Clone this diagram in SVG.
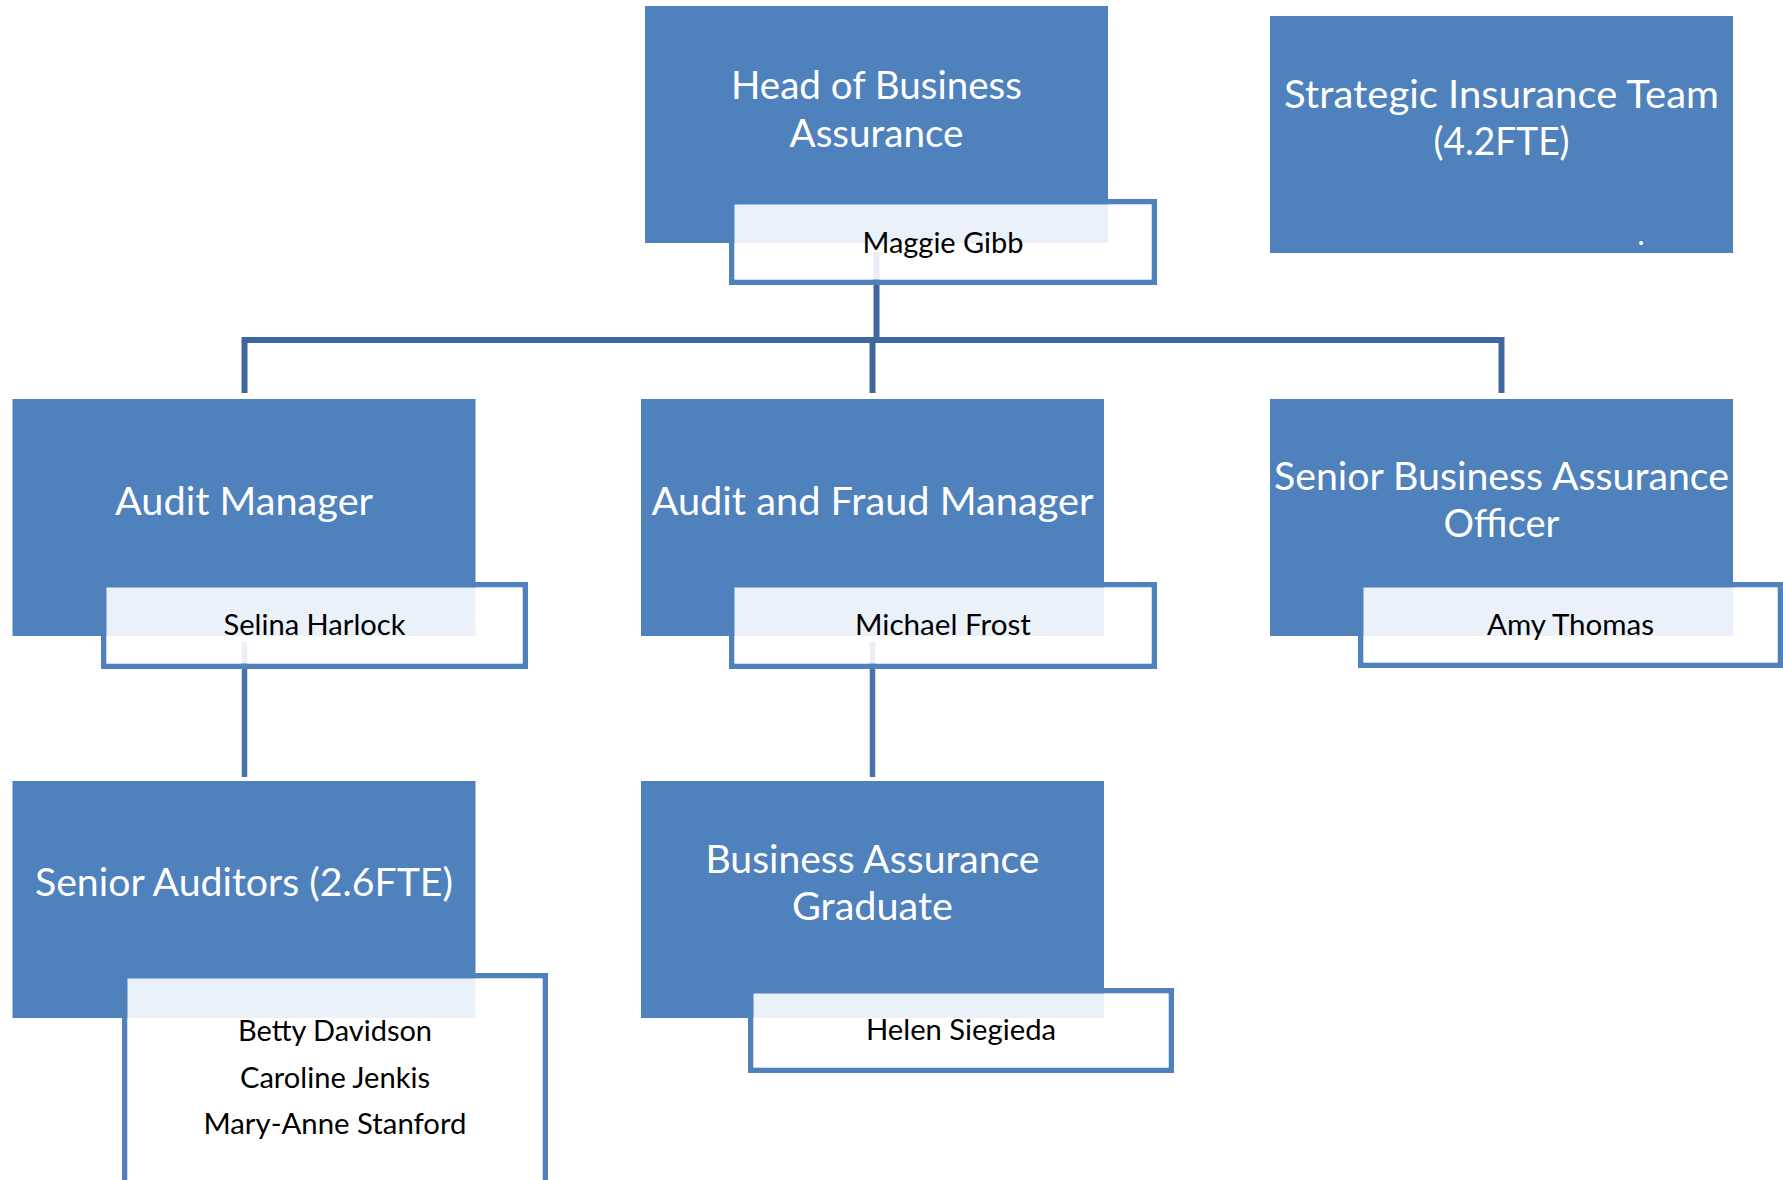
<svg xmlns="http://www.w3.org/2000/svg" width="1783" height="1180" viewBox="0 0 1783 1180">
<style>
.box{fill:#4F81BD;}
.nb{fill:none;stroke:#4F81BD;stroke-width:5.5;}
.ov{fill:#FFFFFF;fill-opacity:0.885;}
.t{font-family:Lato,"Liberation Sans",sans-serif;font-size:39px;fill:#FFFFFF;text-anchor:middle;}
.n{font-family:Lato,"Liberation Sans",sans-serif;font-size:28px;fill:#000000;text-anchor:middle;}
.c1{fill:none;stroke:#40669F;stroke-width:6;}
.c2{fill:none;stroke:#4672AE;stroke-width:5.5;}
</style>
<rect width="1783" height="1180" fill="#FFFFFF"/>
<g id="connectors">
<path class="c1" d="M876.5,252 V340"/>
<path class="c1" d="M244.5,393 V340 H1501.5 V393"/>
<path class="c1" d="M872.5,340 V393"/>
<path class="c2" d="M244.5,642 V777"/>
<path class="c2" d="M872.5,642 V777"/>
</g>
<g id="head">
<rect class="nb" x="731.75" y="201.75" width="422.5" height="80.5"/>
<rect class="box" x="645" y="6" width="463" height="237"/>
<rect class="ov" x="734.5" y="204.5" width="417" height="75"/>
<text class="t" x="876.5" y="99" textLength="291" lengthAdjust="spacingAndGlyphs">Head of Business</text>
<text class="t" x="876.5" y="147" textLength="174" lengthAdjust="spacingAndGlyphs">Assurance</text>
<text class="n" x="943" y="253" textLength="161" lengthAdjust="spacingAndGlyphs">Maggie Gibb</text>
</g>
<g id="strategic">
<rect class="box" x="1270" y="16" width="463" height="237"/>
<text class="t" x="1501.5" y="108" textLength="435" lengthAdjust="spacingAndGlyphs">Strategic Insurance Team</text>
<text class="t" x="1501.5" y="155" textLength="136" lengthAdjust="spacingAndGlyphs">(4.2FTE)</text>
<text class="t" x="1641" y="245" style="font-size:30px">.</text>
</g>
<g id="audit-manager">
<rect class="nb" x="103.75" y="584.75" width="421.5" height="81.5"/>
<rect class="box" x="12.5" y="399" width="463" height="237"/>
<rect class="ov" x="106.5" y="587.5" width="416" height="76"/>
<text class="t" x="244" y="515" textLength="258" lengthAdjust="spacingAndGlyphs">Audit Manager</text>
<text class="n" x="314.5" y="635" textLength="182" lengthAdjust="spacingAndGlyphs">Selina Harlock</text>
</g>
<g id="audit-fraud-manager">
<rect class="nb" x="731.75" y="584.75" width="422.5" height="81.5"/>
<rect class="box" x="641" y="399" width="463" height="237"/>
<rect class="ov" x="734.5" y="587.5" width="417" height="76"/>
<text class="t" x="872.5" y="515" textLength="442" lengthAdjust="spacingAndGlyphs">Audit and Fraud Manager</text>
<text class="n" x="943" y="635" textLength="176" lengthAdjust="spacingAndGlyphs">Michael Frost</text>
</g>
<g id="senior-business-assurance-officer">
<rect class="nb" x="1360.75" y="584.75" width="419.5" height="80.5"/>
<rect class="box" x="1270" y="399" width="463" height="237"/>
<rect class="ov" x="1363.5" y="587.5" width="414" height="75"/>
<text class="t" x="1501.5" y="490" textLength="455" lengthAdjust="spacingAndGlyphs">Senior Business Assurance</text>
<text class="t" x="1501.5" y="537" textLength="116" lengthAdjust="spacingAndGlyphs">Officer</text>
<text class="n" x="1570.5" y="635" textLength="167" lengthAdjust="spacingAndGlyphs">Amy Thomas</text>
</g>
<g id="senior-auditors">
<rect class="nb" x="124.75" y="975.75" width="420.5" height="240"/>
<rect class="box" x="12.5" y="781" width="463" height="237"/>
<rect class="ov" x="127.5" y="978.5" width="415" height="240"/>
<text class="t" x="244" y="896" textLength="418" lengthAdjust="spacingAndGlyphs">Senior Auditors (2.6FTE)</text>
<text class="n" x="335" y="1041" textLength="194" lengthAdjust="spacingAndGlyphs">Betty Davidson</text>
<text class="n" x="335" y="1088" textLength="190" lengthAdjust="spacingAndGlyphs">Caroline Jenkis</text>
<text class="n" x="335" y="1134" textLength="263" lengthAdjust="spacingAndGlyphs">Mary-Anne Stanford</text>
</g>
<g id="business-assurance-graduate">
<rect class="nb" x="750.75" y="990.75" width="420.5" height="79.5"/>
<rect class="box" x="641" y="781" width="463" height="237"/>
<rect class="ov" x="753.5" y="993.5" width="415" height="74"/>
<text class="t" x="872.5" y="873" textLength="334" lengthAdjust="spacingAndGlyphs">Business Assurance</text>
<text class="t" x="872.5" y="920" textLength="161" lengthAdjust="spacingAndGlyphs">Graduate</text>
<text class="n" x="961" y="1040" textLength="190" lengthAdjust="spacingAndGlyphs">Helen Siegieda</text>
</g>
</svg>
